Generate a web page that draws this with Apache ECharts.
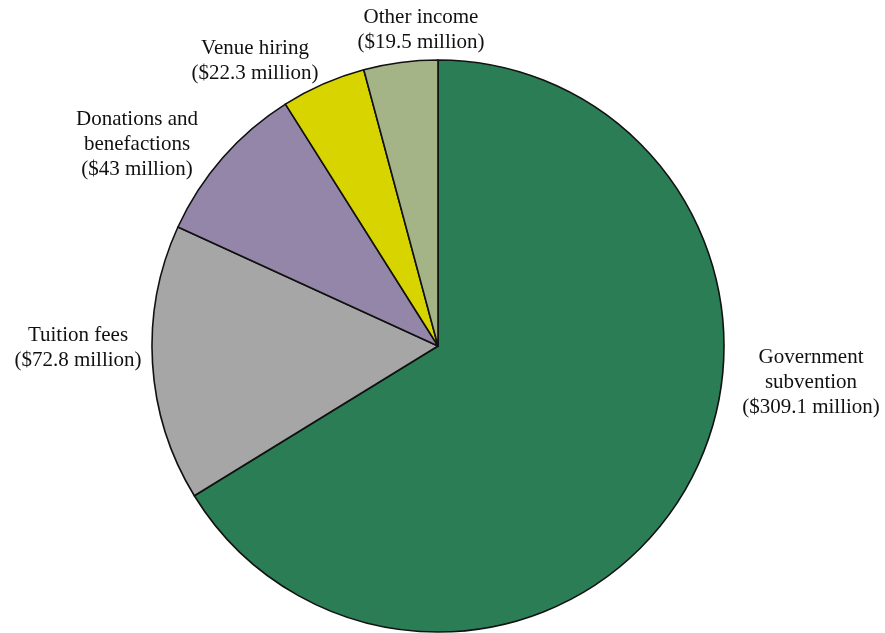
<!DOCTYPE html>
<html>
<head>
<meta charset="utf-8">
<style>
  html, body { margin: 0; padding: 0; background: #ffffff; }
  #chart { width: 885px; height: 633px; }
</style>
<script src="https://cdn.jsdelivr.net/npm/echarts@6/dist/echarts.min.js"></script>
</head>
<body>
<div id="chart"></div>
<script>
// Income sources, HK$ million
const categories = ['Government subvention', 'Tuition fees', 'Donations and benefactions', 'Venue hiring', 'Other income'];
const labelNames = ['Government\nsubvention', 'Tuition fees', 'Donations and\nbenefactions', 'Venue hiring', 'Other income'];
const values = [309.1, 72.8, 43, 22.3, 19.5];

// Slice fills
const colors = ['#2b7d55', '#a6a6a6', '#9486a8', '#d8d400', '#a4b486'];

// Label centres in pixels
const labelCentres = [[811, 382], [78, 348], [137, 144], [255, 61], [421, 30]];

const chart = echarts.init(document.getElementById('chart'), null, { renderer: 'canvas' });

chart.setOption({
  animation: false,
  backgroundColor: '#ffffff',
  series: [{
    type: 'pie',
    center: [438, 346],
    radius: 286,
    startAngle: 90,
    clockwise: true,
    avoidLabelOverlap: false,
    data: categories.map((c, i) => ({
      name: c,
      value: values[i],
      itemStyle: { color: colors[i] }
    })),
    itemStyle: { borderColor: '#111111', borderWidth: 1.6 },
    emphasis: { disabled: true },
    label: {
      show: true,
      position: 'outside',
      fontFamily: '"Liberation Serif", "Times New Roman", serif',
      fontSize: 21,
      lineHeight: 25,
      color: '#111111',
      align: 'center',
      formatter: p => labelNames[p.dataIndex] + '\n($' + p.value + ' million)'
    },
    labelLine: { show: false },
    labelLayout: p => ({
      x: labelCentres[p.dataIndex][0],
      y: labelCentres[p.dataIndex][1],
      align: 'center',
      verticalAlign: 'middle'
    })
  }]
});
</script>
</body>
</html>
